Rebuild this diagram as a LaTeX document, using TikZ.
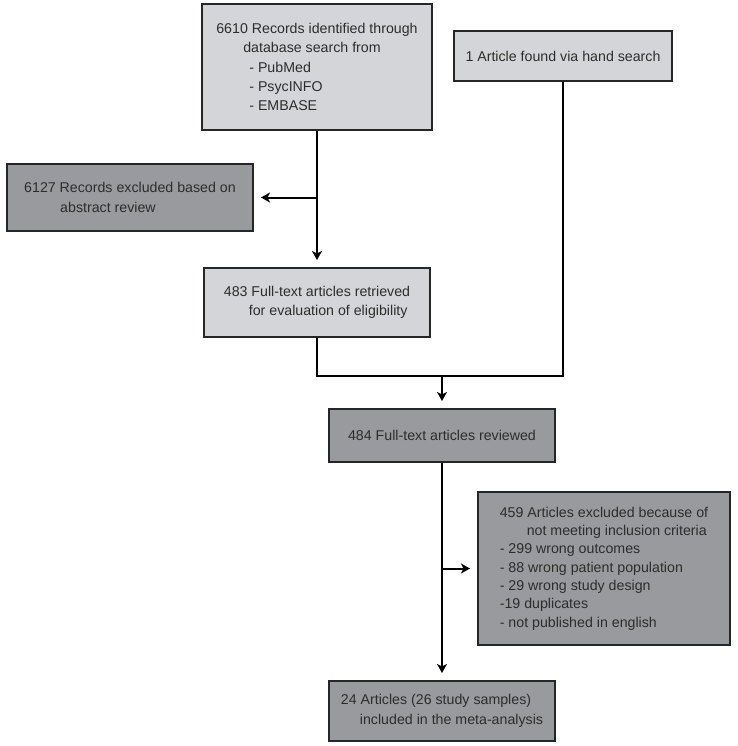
\documentclass[tikz,border=0pt]{standalone}
\usepackage{fontspec}
\setmainfont{Liberation Sans}
\usetikzlibrary{positioning,arrows.meta,calc}
\definecolor{BoxLight}{RGB}{212,213,216}
\definecolor{BoxDark}{RGB}{153,154,157}
\definecolor{BoxLine}{RGB}{38,38,38}
\definecolor{BoxText}{RGB}{45,45,45}
\tikzset{
  box/.style={rectangle, draw=BoxLine, line width=2pt, text=BoxText, align=left, inner sep=0pt, font=\fontsize{14.2}{19.4}\selectfont},
  lightbox/.style={box, fill=BoxLight},
  darkbox/.style={box, fill=BoxDark},
  link/.style={-, line width=2pt, black},
  linkarrow/.style={link, -{Stealth[length=9pt,width=10pt,inset=2.5pt]}, shorten >=7pt},
}

\begin{document}
\begin{tikzpicture}[x=1pt, y=-1pt]
  \useasboundingbox (0,0) rectangle (737,746);

  \node[lightbox, minimum width=230pt, minimum height=126pt] (db) at (317, 67) {6610 Records identified through\\\hspace*{27pt}database search from\\\hspace*{33pt}- PubMed\\\hspace*{33pt}- PsycINFO\\\hspace*{33pt}- EMBASE};
  \node[lightbox, minimum width=218pt, minimum height=50pt] (hand) at (563, 56) {1 Article found via hand search};

  \node[darkbox, minimum width=246pt, minimum height=67pt] (abs) at (130, 197.5) {6127 Records excluded based on\\\hspace*{36pt}abstract review};
  \draw[linkarrow] (db.south) |- (db.south |- abs.east) -- (abs.east);

  \node[lightbox, minimum width=226pt, minimum height=69pt] (ret) at (317, 302.5) {483 Full-text articles retrieved\\\hspace*{25pt}for evaluation of eligibility};
  \draw[linkarrow] (db.south) -- (ret.north);

  \node[darkbox, minimum width=226pt, minimum height=53pt] (rev) at (442, 435.5) {484 Full-text articles reviewed};
  \coordinate (merge) at ($(rev.north)+(0,-32)$);
  \draw[link] (ret.south) |- (merge) -| (hand.south);
  \draw[linkarrow] (merge) -- (rev.north);

  \node[darkbox, minimum width=252pt, minimum height=153pt, font=\fontsize{14.2}{18.3}\selectfont] (crit) at (604, 568.5) {459 Articles excluded because of\\\hspace*{27pt}not meeting inclusion criteria\\- 299 wrong outcomes\\- 88 wrong patient population\\- 29 wrong study design\\-19 duplicates\\- not published in english};
  \draw[linkarrow] (rev.south |- crit.west) -- (crit.west);

  \node[darkbox, minimum width=226pt, minimum height=60pt] (incl) at (442, 711) {24 Articles (26 study samples)\\\hspace*{19pt}included in the meta-analysis};
  \draw[linkarrow] (rev.south) -- (incl.north);
\end{tikzpicture}
\end{document}
